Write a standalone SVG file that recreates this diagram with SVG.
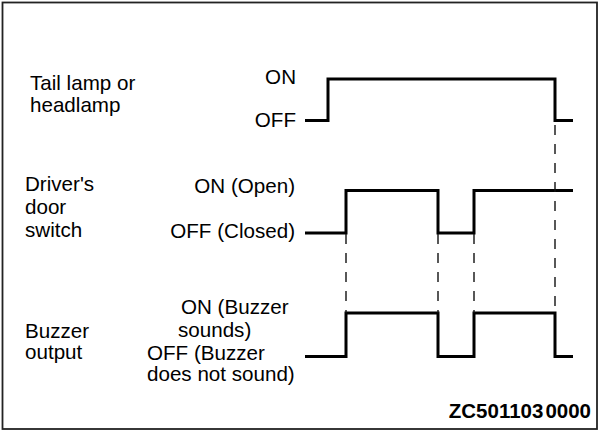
<svg xmlns="http://www.w3.org/2000/svg" width="600" height="432" viewBox="0 0 600 432">
<style>
.t{font-family:"Liberation Sans",Arial,sans-serif;font-size:20.6px;fill:#000}
.r{text-anchor:end}
.sig{fill:none;stroke:#000;stroke-width:3;stroke-linejoin:miter;stroke-linecap:butt}
.dash{fill:none;stroke:#111;stroke-width:1.4;stroke-dasharray:10 9}
.code{font-family:"Liberation Sans",Arial,sans-serif;font-size:20.5px;font-weight:bold;text-anchor:end}
</style>
<rect x="2.5" y="2.5" width="594.5" height="426.5" fill="#fff" stroke="#222" stroke-width="1.8"/>
<g id="tail-lamp">
<text class="t" x="30" y="90">Tail lamp or</text>
<text class="t" x="30" y="112">headlamp</text>
<text class="t r" x="296" y="84">ON</text>
<text class="t r" x="296" y="127">OFF</text>
<path class="sig" d="M305,120.5 H328 V79 H555 V120.5 H573"/>
</g>
<g id="door-switch">
<text class="t" x="25" y="191">Driver's</text>
<text class="t" x="25" y="214">door</text>
<text class="t" x="25" y="237">switch</text>
<text class="t r" x="295" y="193">ON (Open)</text>
<text class="t r" x="295" y="238">OFF (Closed)</text>
<path class="sig" d="M305,233 H346 V190.5 H438 V233 H474 V190.5 H573"/>
</g>
<g id="buzzer-output">
<text class="t" x="25" y="338">Buzzer</text>
<text class="t" x="25" y="359">output</text>
<text class="t" x="181" y="313.5">ON (Buzzer</text>
<text class="t" x="178" y="336.5">sounds)</text>
<text class="t" x="147" y="359.5">OFF (Buzzer</text>
<text class="t" x="147" y="381">does not sound)</text>
<path class="sig" d="M305,356.5 H346 V313 H438 V356.5 H474 V313 H555 V356.5 H573"/>
</g>
<g id="connectors">
<line class="dash" x1="346" y1="234" x2="346" y2="313"/>
<line class="dash" x1="438" y1="234" x2="438" y2="313"/>
<line class="dash" x1="474" y1="234" x2="474" y2="313"/>
<line class="dash" x1="555" y1="125" x2="555" y2="313"/>
</g>
<text class="code" x="591" y="418">ZC501103<tspan dx="2">0000</tspan></text>
</svg>
